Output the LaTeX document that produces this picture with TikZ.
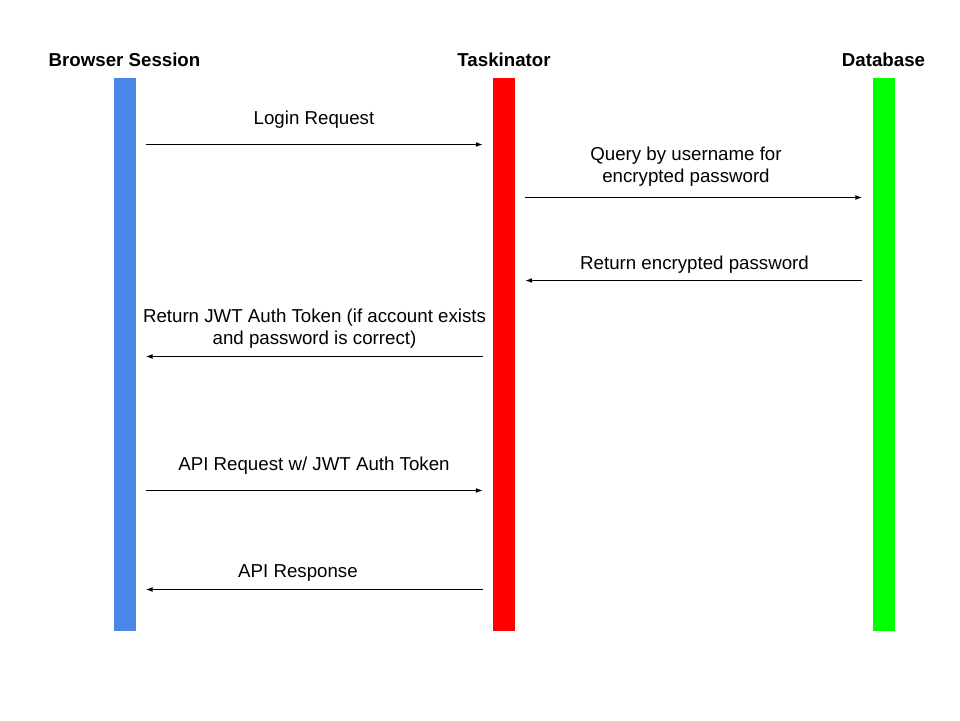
\documentclass[tikz,border=0pt]{standalone}
\usepackage{fontspec}
\setmainfont{Liberation Sans}
\usepackage{xcolor}
\usetikzlibrary{arrows.meta, positioning, calc}
\definecolor{sessionblue}{RGB}{74,134,232}
\definecolor{taskred}{RGB}{255,0,0}
\definecolor{dbgreen}{RGB}{0,255,0}

\begin{document}
\begin{tikzpicture}[x=1pt, y=1pt,
  lifeline/.style={draw=none, minimum width=22pt, minimum height=553pt, inner sep=0pt},
  actor/.style={font=\fontsize{18.7}{22}\selectfont\bfseries, anchor=base, inner sep=0pt},
  lbl/.style={font=\fontsize{18.7}{22}\selectfont, anchor=base, align=center, inner sep=0pt},
  msg/.style={-{Latex[length=7pt,width=5pt]}, line width=1.2pt, shorten <=10pt, shorten >=10pt}]
\useasboundingbox (0,0) rectangle (960,720);

% ---------------- Lifelines ----------------
\node[lifeline, fill=sessionblue] (browser) at (124.5,365.5) {};
\node[lifeline, fill=taskred] (taskinator) at (504,365.5) {};
\node[lifeline, fill=dbgreen] (database) at (883.5,365.5) {};
% Titles
\node[actor] (browsertitle) at (124.5,653.3) {Browser Session};
\node[actor] (tasktitle) at (504,653.3) {Taskinator};
\node[actor] (dbtitle) at (883.5,653.3) {Database};

% ---------------- Login ----------------
\coordinate (login) at (0,575.5);
\draw[msg] (browser.east |- login) -- (taskinator.west |- login);
\node[lbl] (loginlbl) at (314,595.3) {Login Request};
% Query
\coordinate (query) at (0,522.5);
\draw[msg] (taskinator.east |- query) -- (database.west |- query);
\node[lbl] (querylbl) at (686,537) {Query by username for\\encrypted password};
% Return password
\coordinate (pass) at (0,439.5);
\draw[msg] (database.west |- pass) -- (taskinator.east |- pass);
\node[lbl] (passlbl) at (694.5,450) {Return encrypted password};
% Return token
\coordinate (token) at (0,363.5);
\draw[msg] (taskinator.west |- token) -- (browser.east |- token);
\node[lbl] (tokenlbl) at (314.5,375.3) {Return JWT Auth Token (if account exists\\and password is correct)};

% ---------------- API ----------------
\coordinate (apireq) at (0,229.5);
\draw[msg] (browser.east |- apireq) -- (taskinator.west |- apireq);
\node[lbl] (apireqlbl) at (314,249) {API Request w/ JWT Auth Token};
\coordinate (apires) at (0,130.5);
\draw[msg] (taskinator.west |- apires) -- (browser.east |- apires);
\node[lbl] (apireslbl) at (298,142.3) {API Response};
\end{tikzpicture}
\end{document}
